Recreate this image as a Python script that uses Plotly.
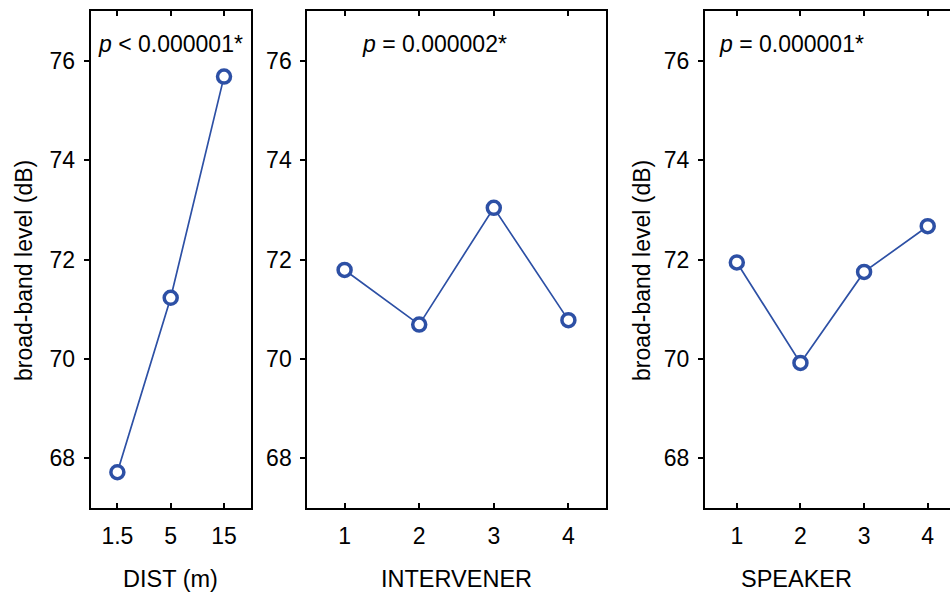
import plotly.graph_objects as go

# ---- data ----
dist_cats = ["1.5", "5", "15"]
dist_vals = [67.72, 71.23, 75.68]
interv_cats = ["1", "2", "3", "4"]
interv_vals = [71.79, 70.69, 73.04, 70.78]
speaker_cats = ["1", "2", "3", "4"]
speaker_vals = [71.94, 69.92, 71.75, 72.67]
y_ticks = [68, 70, 72, 74, 76]
p_labels = ["<i>p</i> < 0.000001*", "<i>p</i> = 0.000002*", "<i>p</i> = 0.000001*"]
x_titles = ["DIST (m)", "INTERVENER", "SPEAKER"]
y_title = "broad-band level (dB)"

W, H = 950, 592
FONT = "Liberation Sans, Arial, sans-serif"
BLUE = "#2d50a5"

# panel pixel boxes (left, right); top/bottom shared
panels_px = [(90.7, 250.7), (307.3, 605.7), (705.0, 950.0)]
top_px, bot_px = 11.0, 508.0
x_ranges = [[-0.5, 2.5], [-0.5, 3.5], [-0.5, 3.35]]
ydom = [1 - bot_px / H, 1 - top_px / H]

cats = [dist_cats, interv_cats, speaker_cats]
vals = [dist_vals, interv_vals, speaker_vals]

fig = go.Figure()
layout = dict(
    width=W, height=H,
    margin=dict(l=0, r=0, t=0, b=0),
    paper_bgcolor="white", plot_bgcolor="white",
    showlegend=False,
    font=dict(family=FONT, color="black"),
)
annotations = []
for i in range(3):
    sfx = "" if i == 0 else str(i + 1)
    xa, ya = "x" + sfx, "y" + sfx
    fig.add_trace(go.Scatter(
        x=cats[i], y=vals[i], xaxis=xa, yaxis=ya, mode="lines+markers",
        line=dict(color=BLUE, width=1.7),
        marker=dict(symbol="circle", size=13, color="white",
                    line=dict(color=BLUE, width=3.5)),
        cliponaxis=False,
    ))
    l, r = panels_px[i]
    layout["xaxis" + sfx] = dict(
        domain=[l / W, r / W], anchor=ya, type="category",
        range=x_ranges[i], showgrid=False, zeroline=False,
        showline=True, linecolor="black", linewidth=2, mirror="ticks",
        ticks="inside", ticklen=5, tickwidth=1.5, tickcolor="black",
        tickfont=dict(size=23, family=FONT, color="black"),
        ticklabelstandoff=6,
    )
    layout["yaxis" + sfx] = dict(
        domain=ydom, anchor=xa, range=[67, 77],
        tickvals=y_ticks, ticktext=[str(t) for t in y_ticks],
        showgrid=False, zeroline=False,
        showline=True, linecolor="black", linewidth=2,
        mirror=(True if i < 2 else False),
        ticks="outside", ticklen=5, tickwidth=1.5, tickcolor="black",
        tickfont=dict(size=23, family=FONT, color="black"),
        ticklabelstandoff=4,
    )
    # p-value annotation
    annotations.append(dict(
        text=p_labels[i], xref="paper", yref="paper",
        x=[170, 434, 791][i] / W, y=1 - 44 / H,
        xanchor="center", yanchor="middle", showarrow=False,
        font=dict(size=23, family=FONT, color="black"),
    ))
    # x-axis title
    annotations.append(dict(
        text=x_titles[i], xref="paper", yref="paper",
        x=[(l + r) / 2, (l + r) / 2, 796][i] / W, y=1 - 579 / H,
        xanchor="center", yanchor="middle", showarrow=False,
        font=dict(size=23.5, family=FONT, color="black"),
    ))

for xc in (24, 642):
    annotations.append(dict(
        text=y_title, xref="paper", yref="paper",
        x=xc / W, y=1 - 271 / H, textangle=-90,
        xanchor="center", yanchor="middle", showarrow=False,
        font=dict(size=23, family=FONT, color="black"),
    ))

layout["annotations"] = annotations
fig.update_layout(**layout)
fig.write_html("out.html")
